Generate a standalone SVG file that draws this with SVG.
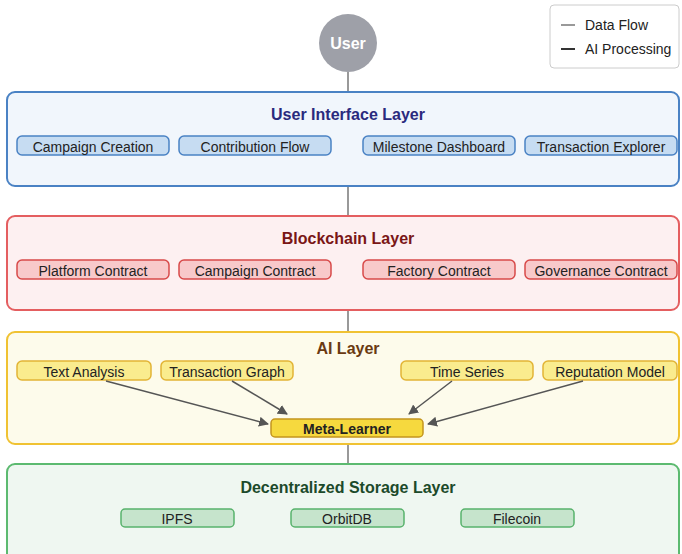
<svg xmlns="http://www.w3.org/2000/svg" width="682" height="554" viewBox="0 0 682 554">
  <defs>
    <marker id="arrow" viewBox="0 0 10 10" refX="9" refY="5" markerWidth="10" markerHeight="10" markerUnits="userSpaceOnUse" orient="auto">
      <path d="M0,0 L10,5 L0,10 z" fill="#555"/>
    </marker>
    <style>
      text { font-family: "Liberation Sans", Arial, sans-serif; }
      .layer { stroke-width: 2; }
      .title { font-size: 16px; font-weight: bold; text-anchor: middle; }
      .item { font-size: 14px; fill: #222; text-anchor: middle; }
      .link { stroke: #999; stroke-width: 2; fill: none; }
      .ai { stroke: #555; stroke-width: 1.5; fill: none; marker-end: url(#arrow); }
      .ui-box { fill: #c6dcf2; stroke: #4a82c4; stroke-width: 1.5; }
      .bc-box { fill: #f8c9ca; stroke: #d84a4a; stroke-width: 1.5; }
      .ai-box { fill: #faec8e; stroke: #e2b436; stroke-width: 1.5; }
      .st-box { fill: #c6e4cc; stroke: #58b26c; stroke-width: 1.5; }
    </style>
  </defs>

  <!-- connectors between layers -->
  <g id="connectors">
    <line class="link" x1="348" y1="72" x2="348" y2="92"/>
    <line class="link" x1="348" y1="186" x2="348" y2="216"/>
    <line class="link" x1="348" y1="310" x2="348" y2="332"/>
    <line class="link" x1="348" y1="444" x2="348" y2="464"/>
  </g>

  <!-- user -->
  <g id="user">
    <circle cx="348" cy="43" r="29" fill="#9ea0a8"/>
    <text x="348" y="49" font-size="16" font-weight="bold" fill="#fff" text-anchor="middle">User</text>
  </g>

  <!-- legend -->
  <g id="legend">
    <rect x="550" y="5" width="129" height="63" rx="4" fill="#fff" stroke="#ccc" stroke-width="1"/>
    <line x1="561" y1="25" x2="575" y2="25" stroke="#999" stroke-width="2"/>
    <text x="585" y="30" font-size="14" fill="#222">Data Flow</text>
    <line x1="561" y1="49" x2="575" y2="49" stroke="#333" stroke-width="2"/>
    <text x="585" y="54" font-size="14" fill="#222">AI Processing</text>
  </g>

  <!-- user interface layer -->
  <g id="ui-layer">
    <rect class="layer" x="7" y="92" width="672" height="94" rx="8" fill="#f1f6fc" stroke="#4a82c4"/>
    <text class="title" x="348" y="120" fill="#2a2a7e">User Interface Layer</text>
    <g id="campaign-creation"><rect class="ui-box" x="17" y="136" width="152" height="19" rx="5"/><text class="item" x="93" y="152">Campaign Creation</text></g>
    <g id="contribution-flow"><rect class="ui-box" x="179" y="136" width="152" height="19" rx="5"/><text class="item" x="255" y="152">Contribution Flow</text></g>
    <g id="milestone-dashboard"><rect class="ui-box" x="363" y="136" width="152" height="19" rx="5"/><text class="item" x="439" y="152">Milestone Dashboard</text></g>
    <g id="transaction-explorer"><rect class="ui-box" x="525" y="136" width="152" height="19" rx="5"/><text class="item" x="601" y="152">Transaction Explorer</text></g>
  </g>

  <!-- blockchain layer -->
  <g id="blockchain-layer">
    <rect class="layer" x="7" y="216" width="672" height="94" rx="8" fill="#fdf0f1" stroke="#e45e60"/>
    <text class="title" x="348" y="244" fill="#7a1616">Blockchain Layer</text>
    <g id="platform-contract"><rect class="bc-box" x="17" y="260" width="152" height="19" rx="5"/><text class="item" x="93" y="276">Platform Contract</text></g>
    <g id="campaign-contract"><rect class="bc-box" x="179" y="260" width="152" height="19" rx="5"/><text class="item" x="255" y="276">Campaign Contract</text></g>
    <g id="factory-contract"><rect class="bc-box" x="363" y="260" width="152" height="19" rx="5"/><text class="item" x="439" y="276">Factory Contract</text></g>
    <g id="governance-contract"><rect class="bc-box" x="525" y="260" width="152" height="19" rx="5"/><text class="item" x="601" y="276">Governance Contract</text></g>
  </g>

  <!-- ai layer -->
  <g id="ai-layer">
    <rect class="layer" x="7" y="332" width="672" height="112" rx="8" fill="#fdfbeb" stroke="#f0c232"/>
    <text class="title" x="348" y="354" fill="#6a3a12">AI Layer</text>
    <g id="text-analysis"><rect class="ai-box" x="17" y="361" width="134" height="19" rx="5"/><text class="item" x="84" y="377">Text Analysis</text></g>
    <g id="transaction-graph"><rect class="ai-box" x="161" y="361" width="132" height="19" rx="5"/><text class="item" x="227" y="377">Transaction Graph</text></g>
    <g id="time-series"><rect class="ai-box" x="401" y="361" width="132" height="19" rx="5"/><text class="item" x="467" y="377">Time Series</text></g>
    <g id="reputation-model"><rect class="ai-box" x="543" y="361" width="134" height="19" rx="5"/><text class="item" x="610" y="377">Reputation Model</text></g>
    <g id="meta-learner"><rect x="271" y="419" width="152" height="18" rx="4" fill="#f6d93e" stroke="#c4951e" stroke-width="1.5"/><text class="item" x="347" y="434" font-weight="bold">Meta-Learner</text></g>
  </g>

  <!-- ai processing arrows -->
  <g id="ai-connectors">
    <line class="ai" x1="106" y1="381" x2="268" y2="424"/>
    <line class="ai" x1="232" y1="381" x2="287" y2="414"/>
    <line class="ai" x1="452" y1="381" x2="409" y2="414"/>
    <line class="ai" x1="583" y1="381" x2="428" y2="424"/>
  </g>

  <!-- storage layer -->
  <g id="storage-layer">
    <rect class="layer" x="7" y="464" width="672" height="100" rx="8" fill="#eff7f1" stroke="#5cba70"/>
    <text class="title" x="348" y="493" fill="#1c4a2a">Decentralized Storage Layer</text>
    <g id="ipfs"><rect class="st-box" x="121" y="509" width="113" height="18" rx="4"/><text class="item" x="177" y="524">IPFS</text></g>
    <g id="orbitdb"><rect class="st-box" x="291" y="509" width="113" height="18" rx="4"/><text class="item" x="347" y="524">OrbitDB</text></g>
    <g id="filecoin"><rect class="st-box" x="461" y="509" width="113" height="18" rx="4"/><text class="item" x="517" y="524">Filecoin</text></g>
  </g>
</svg>
